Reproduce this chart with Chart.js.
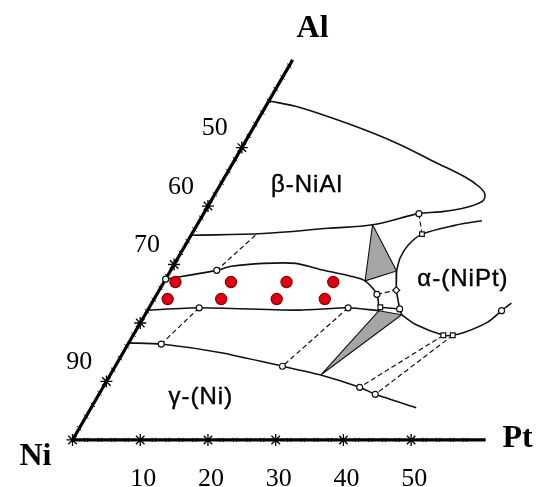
<!DOCTYPE html>
<html>
<head>
<meta charset="utf-8">
<script src="https://cdn.jsdelivr.net/npm/chart.js@4.4.0/dist/chart.umd.min.js"></script>
<style>
  html, body { margin: 0; padding: 0; background: #fff; }
  #wrap { width: 543px; height: 487px; }
</style>
</head>
<body>
<div id="wrap"><canvas id="diagram" width="543" height="487"></canvas></div>
<script>
// compositions are [at.% Pt, at.% Al], Ni is the balance
const betaBoundary = [[0, 58], [5.0, 56.9], [13.6, 54.1], [22.4, 50.8], [29.8, 47.5], [35.4, 45.0], [38.4, 43.3],
    [39.9, 42.0], [40.1, 40.8], [38.1, 39.7], [34.8, 39.0], [31.8, 38.7], [25.9, 36.8], [19.7, 36.2], [10.5, 35.3], [0, 35.0]];
const alphaUpper = [[41.7, 37.5], [38.1, 36.7], [34.0, 35.2], [32.9, 33.3], [32.8, 31.2], [33.4, 28.9]];
const alphaLeft = [[33.4, 28.9], [35.0, 25.6], [37.1, 22.4], [37.9, 21.4]];
const alphaLower = [[37.9, 21.4], [40.9, 19.7], [45.8, 17.9], [47.2, 17.9], [48.7, 18.4], [51.2, 20.1], [52.3, 22.1], [53.1, 23.4]];
const gammaPrimeUpper = [[0, 27.5], [6.8, 29.0], [8.6, 29.7], [13.1, 30.2], [17.9, 30.2], [21.8, 29.2], [27.1, 28.0], [29.6, 27.2], [32.5, 24.9], [34.2, 22.1]];
const gammaPrimeLower = [[0, 22.2], [7.4, 22.6], [22.4, 22.2], [29.4, 22.6], [34.2, 22.1]];
const gammaBoundary = [[0, 16.6], [4.9, 16.4], [14.5, 14.9], [24.7, 12.6], [31.1, 11.1], [37.9, 9.0], [40.8, 7.8], [48.0, 5.5]];

const tieLines = [
    [[9.5, 35.0], [6.8, 29.0]],
    [[7.4, 22.6], [4.9, 16.4]],
    [[29.4, 22.6], [24.7, 12.6]],
    [[45.8, 17.9], [37.9, 9.0]],
    [[47.2, 17.9], [40.8, 7.8]],
    [[31.8, 38.7], [34.0, 35.2]],
    [[32.5, 24.9], [35.0, 25.6]]
];
const solidTie = [[34.1, 22.7], [37.1, 22.4]];

const threePhaseUpper = [[25.9, 36.8], [33.4, 28.9], [29.6, 27.2]];
const threePhaseLower = [[34.2, 22.1], [37.9, 21.4], [31.1, 11.1]];

const openCircles = [[31.8, 38.7], [0, 27.5], [6.8, 29.0], [7.4, 22.6], [4.9, 16.4], [29.4, 22.6], [24.7, 12.6],
    [37.9, 9.0], [40.8, 7.8], [32.5, 24.9], [37.1, 22.4], [52.3, 22.1]];
const openSquares = [[34.0, 35.2], [34.1, 22.7], [45.8, 17.9], [47.2, 17.9]];
const openDiamonds = [[35.0, 25.6]];

const alloys = [[1.7, 27.0], [9.9, 27.0], [18.1, 27.0], [25.0, 27.0], [2.0, 24.1], [9.9, 24.1], [18.1, 24.1], [25.2, 24.1]];

// axes
const ptAxisEnd = 61;
const alAxisEnd = 65;
const ptMajorTicks = [0, 10, 20, 30, 40, 50];
const ptMinorTicks = [2, 4, 6, 8, 12, 14, 16, 18, 22, 24, 26, 28, 32, 34, 36, 38, 42, 44, 46, 48, 52, 54, 56, 58];
const alMajorTicks = [10, 20, 30, 40, 50];
const alMinorTicks = [2, 4, 6, 8, 12, 14, 16, 18, 22, 24, 26, 28, 32, 34, 36, 38, 42, 44, 46, 48, 52, 54, 56, 58, 60, 62, 64];
const ptTickLabels = [10, 20, 30, 40, 50];
const niTickLabels = [50, 60, 70, 90];

const phaseNames = ['β-NiAl', 'α-(NiPt)', 'γ-(Ni)'];
const phaseSpots = [[12.8, 43.6], [43.9, 27.5], [15.3, 7.3]];

const tern = (pt, al) => ({ x: pt + al / 2, y: al * Math.sqrt(3) / 2 });
const toPoints = list => list.map(p => tern(p[0], p[1]));

function line(data, opts) {
    return Object.assign({
        data: toPoints(data),
        showLine: true,
        borderColor: '#111',
        borderWidth: 1.6,
        pointRadius: 0,
        tension: 0.3,
        fill: false,
        order: 5
    }, opts || {});
}

function markers(data, style, opts) {
    return Object.assign({
        data: toPoints(data),
        showLine: false,
        pointStyle: style,
        pointRadius: 3,
        pointBackgroundColor: '#fff',
        pointBorderColor: '#111',
        pointBorderWidth: 1.2,
        order: 1
    }, opts || {});
}

const datasets = [];

// gray three-phase triangles
[threePhaseUpper, threePhaseLower].forEach(tri => {
    datasets.push(line(tri.concat([tri[0]]), {
        tension: 0, fill: 'shape', backgroundColor: '#a6a6a6', borderWidth: 1.1, order: 8
    }));
});

// phase boundaries
datasets.push(line(betaBoundary, { tension: 0.35 }));
datasets.push(line(alphaUpper));
datasets.push(line(alphaLeft, { tension: 0 }));
datasets.push(line(alphaLower));
datasets.push(line(gammaPrimeUpper, { tension: 0.25 }));
datasets.push(line(gammaPrimeLower, { tension: 0.2 }));
datasets.push(line(gammaBoundary, { tension: 0.2 }));
datasets.push(line(solidTie, { tension: 0 }));

tieLines.forEach(t => {
    datasets.push(line(t, { tension: 0, borderDash: [5, 3], borderWidth: 1.2 }));
});

// triangle axes
datasets.push(line([[0, 0], [ptAxisEnd, 0]], { tension: 0, borderWidth: 3.2, borderColor: '#000', order: 3 }));
datasets.push(line([[0, 0], [0, alAxisEnd]], { tension: 0, borderWidth: 3.2, borderColor: '#000', order: 3 }));
datasets.push(markers(ptMajorTicks.map(v => [v, 0]).concat(alMajorTicks.map(v => [0, v])), 'star', {
    pointRadius: 6, pointBorderColor: '#000', pointBorderWidth: 1.3, order: 2
}));
datasets.push(markers(ptMinorTicks.map(v => [v, 0]).concat(alMinorTicks.map(v => [0, v])), 'crossRot', {
    pointRadius: 3, pointBorderColor: '#000', pointBorderWidth: 1, order: 2
}));

// construction points
datasets.push(markers(openCircles, 'circle'));
datasets.push(markers(openSquares, 'rect', { pointRadius: 3.3 }));
datasets.push(markers(openDiamonds, 'rectRot', { pointRadius: 3.5 }));

// alloy compositions
datasets.push(markers(alloys, 'circle', {
    pointRadius: 5.6, pointBackgroundColor: '#e00010', pointBorderColor: '#8a0000', pointBorderWidth: 1.2, order: 0
}));

const labelsPlugin = {
    id: 'ternaryLabels',
    afterDatasetsDraw(chart) {
        const ctx = chart.ctx;
        const sx = chart.scales.x, sy = chart.scales.y;
        const px = (pt, al) => {
            const p = tern(pt, al);
            return [sx.getPixelForValue(p.x), sy.getPixelForValue(p.y)];
        };
        ctx.save();
        ctx.fillStyle = '#000';
        ctx.textAlign = 'center';
        ctx.textBaseline = 'middle';

        // corner labels
        ctx.font = 'bold 32px "Liberation Serif", "Times New Roman", serif';
        let p = px(0, 0);
        ctx.fillText('Ni', p[0] - 37, p[1] + 17);
        p = px(ptAxisEnd, 0);
        ctx.fillText('Pt', p[0] + 32, p[1] - 1);
        p = px(0, alAxisEnd);
        ctx.fillText('Al', p[0] + 20, p[1] - 31);

        // tick labels
        ctx.font = '26px "Liberation Serif", "Times New Roman", serif';
        ctx.textBaseline = 'top';
        ptTickLabels.forEach(v => {
            const q = px(v, 0);
            ctx.fillText(String(v), q[0] + 3, q[1] + 26);
        });
        ctx.textBaseline = 'middle';
        niTickLabels.forEach(v => {
            const q = px(0, 100 - v);
            ctx.fillText(String(v), q[0] - 27, q[1] - 19);
        });

        // phase fields
        ctx.font = '24px "Liberation Sans", Arial, sans-serif';
        if ('letterSpacing' in ctx) ctx.letterSpacing = '1px';
        ctx.strokeStyle = '#000';
        ctx.lineWidth = 0.4;
        phaseNames.forEach((name, i) => {
            const q = px(phaseSpots[i][0], phaseSpots[i][1]);
            ctx.fillText(name, q[0], q[1]);
            ctx.strokeText(name, q[0], q[1]);
        });
        ctx.restore();
    }
};

const S = 6.96;
new Chart(document.getElementById('diagram'), {
    type: 'scatter',
    data: { datasets: datasets },
    options: {
        responsive: false,
        animation: false,
        events: [],
        layout: { padding: 0 },
        plugins: { legend: { display: false }, tooltip: { enabled: false } },
        scales: {
            x: { type: 'linear', display: false, min: -67 / S, max: (543 - 67) / S },
            y: { type: 'linear', display: false, min: -(487 - 446) / S, max: 446 / S }
        }
    },
    plugins: [labelsPlugin]
});
</script>
</body>
</html>
